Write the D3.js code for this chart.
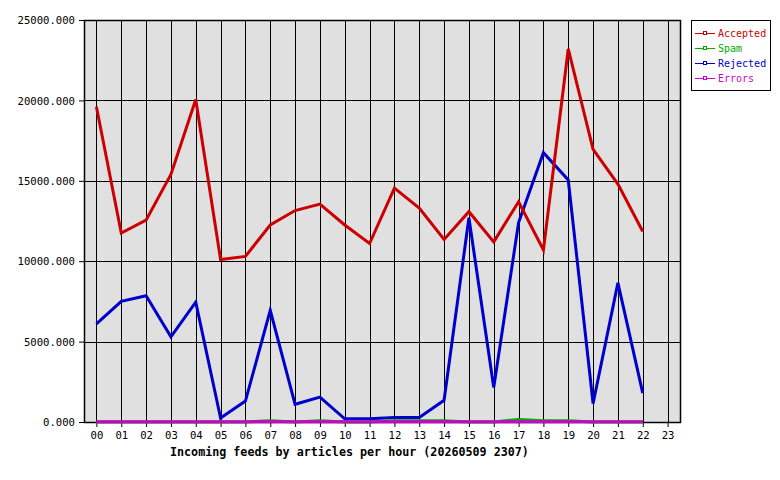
<html>
<head>
<title>Incoming feeds</title>
<meta charset="utf-8">
<style type="text/css">
body { margin: 0; background: #fff; }
text { font-family: "DejaVu Sans Mono", "Liberation Mono", monospace; }
</style>
</head>
<body>
<script src="https://d3js.org/d3.v7.min.js"></script>
<script>

// hours along the bottom
var hours = ["00","01","02","03","04","05","06","07","08","09","10","11",
             "12","13","14","15","16","17","18","19","20","21","22","23"];

// articles per hour, hour 23 has no data yet
var accepted = [19600, 11750, 12550, 15400, 20050, 10100, 10300, 12250, 13150, 13550, 12250, 11100,
                14550, 13300, 11350, 13080, 11200, 13700, 10700, 23200, 16950, 14800, 11850, null];
var spam     = [0, 0, 0, 0, 0, 0, 0, 80, 0, 80, 0, 0,
                70, 70, 70, 0, 0, 160, 80, 80, 0, 0, 0, null];
var rejected = [6100, 7500, 7850, 5300, 7450, 250, 1300, 6950, 1100, 1550, 200, 200,
                280, 280, 1350, 12700, 2150, 12400, 16750, 15050, 1150, 8650, 1800, null];
var errors   = [10, 10, 10, 10, 10, 10, 10, 10, 10, 10, 10, 10,
                10, 10, 10, 10, 10, 10, 10, 10, 10, 10, 10, null];

var yTicks = [0, 5000, 10000, 15000, 20000, 25000];

var series = [
  {name: "Accepted", values: accepted, color: "#cc0000"},
  {name: "Spam",     values: spam,     color: "#00aa00"},
  {name: "Rejected", values: rejected, color: "#0000cc"},
  {name: "Errors",   values: errors,   color: "#cc00cc"}
];

var margin = {top: 20, right: 100, bottom: 58, left: 84},
    width = 780 - margin.left - margin.right,
    height = 480 - margin.top - margin.bottom;

var svg = d3.select("body").append("svg")
    .attr("width", 780)
    .attr("height", 480)
    .append("g")
    .attr("transform", "translate(" + margin.left + "," + margin.top + ")");

var x = d3.scalePoint()
    .domain(hours)
    .range([0, width])
    .padding(0.5);
var y = d3.scaleLinear()
    .domain([0, 25000])
    .range([height, 0]);

// plot background
svg.append("rect")
    .attr("width", width)
    .attr("height", height)
    .attr("fill", "#e0e0e0");

// grid
svg.selectAll(".vgrid")
    .data(hours)
    .enter().append("line")
    .attr("x1", function(d) { return Math.round(x(d)) + 0.5; })
    .attr("x2", function(d) { return Math.round(x(d)) + 0.5; })
    .attr("y1", 0)
    .attr("y2", height)
    .attr("stroke", "#000");
svg.selectAll(".hgrid")
    .data(yTicks)
    .enter().append("line")
    .attr("x1", 0)
    .attr("x2", width)
    .attr("y1", function(d) { return Math.round(y(d)) + 0.5; })
    .attr("y2", function(d) { return Math.round(y(d)) + 0.5; })
    .attr("stroke", "#000");

// axes
var xAxis = svg.append("g")
    .attr("transform", "translate(0," + height + ")")
    .call(d3.axisBottom(x).tickSize(5).tickPadding(4));
var yAxis = svg.append("g")
    .call(d3.axisLeft(y).tickValues(yTicks).tickFormat(d3.format(".3f")).tickSize(5).tickPadding(4));

[xAxis, yAxis].forEach(function(a) {
  a.select(".domain").remove();
  a.selectAll("line").attr("stroke", "#000");
  a.selectAll("text").attr("fill", "#000").style("font-size", "10.6px")
   .style("font-family", "'DejaVu Sans Mono', monospace");
});
yAxis.selectAll("text").attr("dy", "0.35em");

// border
svg.append("rect")
    .attr("x", 0.5)
    .attr("y", 0.5)
    .attr("width", width)
    .attr("height", height)
    .attr("fill", "none")
    .attr("stroke", "#000")
    .attr("stroke-width", 1.5);

// lines, rejected underneath, then accepted, spam, errors
var line = d3.line()
    .defined(function(d) { return d != null; })
    .x(function(d, i) { return x(hours[i]); })
    .y(function(d) { return y(d); });

[2, 0, 1, 3].forEach(function(k) {
  var s = series[k];
  svg.append("path")
      .datum(s.values)
      .attr("fill", "none")
      .attr("stroke", s.color)
      .attr("stroke-width", 3)
      .attr("stroke-linejoin", "miter")
      .attr("d", line);
});

// x label
svg.append("text")
    .attr("x", 170 - margin.left)
    .attr("y", height + 34)
    .style("font-size", "11.7px")
    .style("font-weight", "bold")
    .text("Incoming feeds by articles per hour (20260509 2307)");

// legend
var legend = svg.append("g")
    .attr("transform", "translate(" + (width + 11) + ",0)");
legend.append("rect")
    .attr("x", 0.5)
    .attr("y", 0.5)
    .attr("width", 79)
    .attr("height", 70)
    .attr("fill", "#fff")
    .attr("stroke", "#000");
var item = legend.selectAll(".item")
    .data(series)
    .enter().append("g")
    .attr("transform", function(d, i) { return "translate(0," + (13 + i * 15) + ")"; });
item.append("line")
    .attr("x1", 4).attr("x2", 24)
    .attr("y1", 0.5).attr("y2", 0.5)
    .attr("stroke", function(d) { return d.color; });
item.append("rect")
    .attr("x", 12.5).attr("y", -1.5)
    .attr("width", 3).attr("height", 3)
    .attr("fill", "#fff")
    .attr("stroke", function(d) { return d.color; });
item.append("text")
    .attr("x", 27)
    .attr("y", 0)
    .attr("dy", "0.35em")
    .attr("fill", function(d) { return d.color; })
    .style("font-size", "10px")
    .text(function(d) { return d.name; });

</script>
</body>
</html>
